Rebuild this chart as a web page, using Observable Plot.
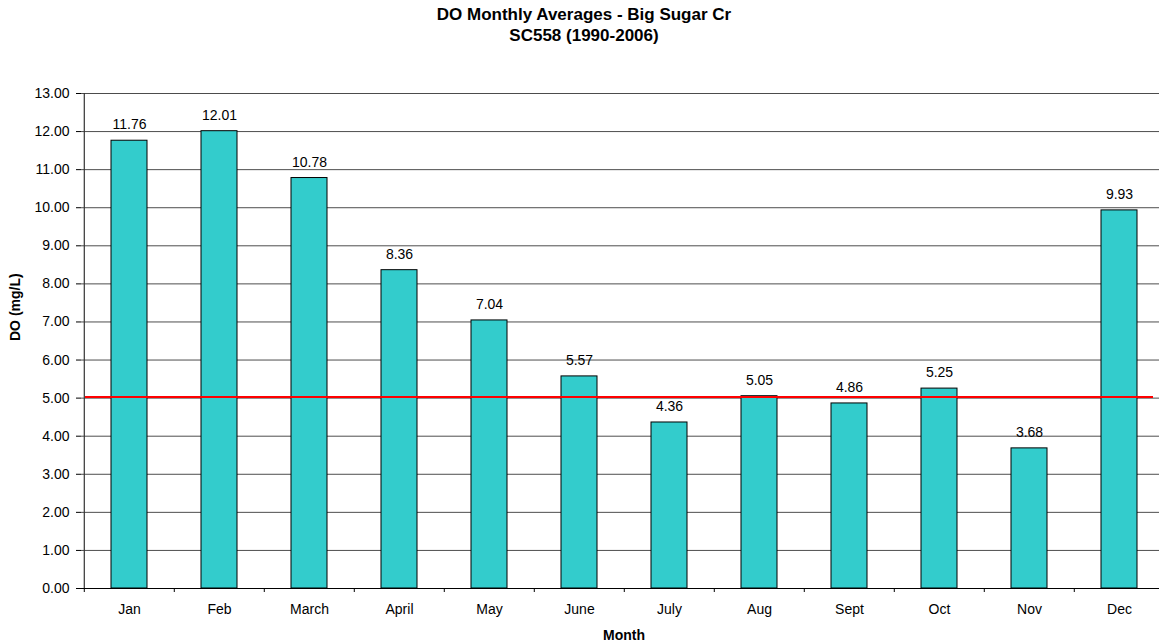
<!DOCTYPE html>
<html>
<head>
<meta charset="utf-8">
<script src="https://cdn.jsdelivr.net/npm/d3@7"></script>
<script src="https://cdn.jsdelivr.net/npm/@observablehq/plot@0.6"></script>
<style>
  html, body { margin: 0; padding: 0; background: #fff; overflow: hidden; }
  body { width: 1159px; height: 642px; font-family: "Liberation Sans", Arial, sans-serif; }
  #title { height: 50px; box-sizing: border-box; padding-top: 4px; text-align: center;
           font-weight: bold; font-size: 17px; line-height: 21px; color: #000; padding-left: 9px; }
  #chart svg { display: block; overflow: visible; }
</style>
</head>
<body>
<div id="title"><div>DO Monthly Averages - Big Sugar Cr</div><div>SC558 (1990-2006)</div></div>
<div id="chart"></div>
<script>
const months = ["Jan", "Feb", "March", "April", "May", "June", "July", "Aug", "Sept", "Oct", "Nov", "Dec"];
const doValues = [11.76, 12.01, 10.78, 8.36, 7.04, 5.57, 4.36, 5.05, 4.86, 5.25, 3.68, 9.93];
const yTicks = [0, 1, 2, 3, 4, 5, 6, 7, 8, 9, 10, 11, 12, 13];
const standard = [5.03];
const yLabel = "DO (mg/L)";
const xLabel = "Month";

const data = months.map((m, i) => ({month: m, value: doValues[i]}));

const W = 1159, H = 592, mL = 81, mR = -7, mT = 43, mB = 54;
const step = (W - mR - mL) / months.length;
const fmt = d3.format(".2f");

const chart = Plot.plot({
  width: W,
  height: H,
  marginLeft: mL,
  marginRight: mR,
  marginTop: mT,
  marginBottom: mB,
  style: {fontFamily: "Liberation Sans, Arial, sans-serif", fontSize: "14px", color: "#000", background: "#fff", overflow: "visible"},
  x: {domain: months, paddingInner: 0.6, paddingOuter: 0.3, label: null},
  y: {domain: [0, 13], label: null},
  marks: [
    Plot.gridY(yTicks, {stroke: "#000", strokeOpacity: 0.7, strokeWidth: 1}),
    Plot.barY(data, {x: "month", y: "value", fill: "#33CCCC", stroke: "#000", strokeWidth: 1}),
    Plot.ruleY(standard, {stroke: "#FF0000", strokeWidth: 2, insetLeft: 4, insetRight: 13}),
    Plot.text(data, {x: "month", y: "value", text: d => fmt(d.value), dy: -16, fontSize: 14, fill: "#000"}),
    Plot.ruleY([0], {stroke: "#000", strokeWidth: 1}),
    Plot.axisY(yTicks, {tickSize: 5, tickPadding: 7, tickFormat: fmt, label: null, stroke: "#000", fontSize: 14}),
    Plot.ruleX([months[0]], {x: d => d, dx: -step / 2, stroke: "#333", strokeWidth: 1.2}),
    Plot.axisX({tickSize: 0, tickPadding: 16, label: null, fontSize: 14}),
    Plot.axisX({tickSize: 4, tickFormat: () => "", label: null, dx: -step / 2, stroke: "#000"}),
    Plot.text([yLabel], {frameAnchor: "left", dx: -66, rotate: -90, fontWeight: "bold", fontSize: 14, fill: "#000"}),
    Plot.text([xLabel], {frameAnchor: "bottom", lineAnchor: "middle", dy: 47, fontWeight: "bold", fontSize: 14, fill: "#000"})
  ]
});
document.getElementById("chart").appendChild(chart);
</script>
</body>
</html>
